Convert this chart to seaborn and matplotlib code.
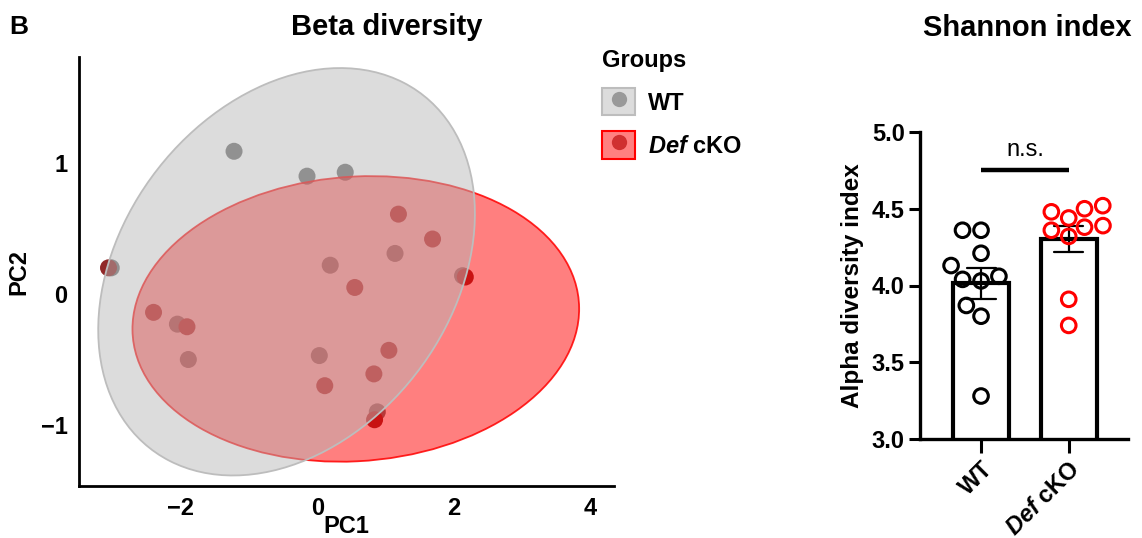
import numpy as np
import pandas as pd
import seaborn as sns
import matplotlib
matplotlib.use("Agg")
import matplotlib.pyplot as plt
from matplotlib.patches import Ellipse, Patch
from matplotlib.lines import Line2D
from matplotlib.legend_handler import HandlerTuple

# PCoA coordinates
wt_pc1 = [-1.22, -0.15, 0.41, 0.19, 1.14, 2.13, -3.02, -2.05, -1.89, 0.03, 0.88]
wt_pc2 = [1.09, 0.90, 0.93, 0.22, 0.31, 0.14, 0.20, -0.23, -0.50, -0.47, -0.90]
ko_pc1 = [1.19, 1.69, 0.55, 2.17, -3.06, -2.40, -1.91, 1.05, 0.83, 0.11, 0.84]
ko_pc2 = [0.61, 0.42, 0.05, 0.13, 0.20, -0.14, -0.25, -0.43, -0.61, -0.70, -0.96]

# group ellipses (centre, width, height, angle)
ell_groups = ["Def cKO", "WT"]
ell_cx = [0.565, -0.45]
ell_cy = [-0.19, 0.17]
ell_w = [6.55, 5.62]
ell_h = [2.175, 2.93]
ell_angle = [1.5, 12.6]

# Shannon index per mouse
wt_shannon = [4.36, 4.36, 4.21, 4.13, 4.06, 4.03, 4.04, 3.87, 3.80, 3.28]
ko_shannon = [4.48, 4.52, 4.50, 4.38, 4.44, 4.39, 4.36, 4.32, 3.91, 3.74]

groups = ["WT", "Def cKO"]
group_labels = ["WT", r"$\mathbfit{Def}$ cKO"]

pcoa_df = pd.DataFrame({
    "PC1": wt_pc1 + ko_pc1,
    "PC2": wt_pc2 + ko_pc2,
    "Group": ["WT"] * len(wt_pc1) + ["Def cKO"] * len(ko_pc1),
})
alpha_df = pd.DataFrame({
    "Shannon": wt_shannon + ko_shannon,
    "Group": ["WT"] * len(wt_shannon) + ["Def cKO"] * len(ko_shannon),
})

sns.set_style("white")
plt.rcParams["font.family"] = ["Liberation Sans", "DejaVu Sans"]
plt.rcParams["mathtext.fontset"] = "custom"
plt.rcParams["mathtext.rm"] = "Liberation Sans"
plt.rcParams["mathtext.it"] = "Liberation Sans:italic"
plt.rcParams["mathtext.bf"] = "Liberation Sans:bold"
try:
    plt.rcParams["mathtext.bfit"] = "Liberation Sans:italic:bold"
except KeyError:
    pass
for key in ["text.color", "axes.labelcolor", "xtick.color", "ytick.color"]:
    plt.rcParams[key] = "black"

W, H = 1142, 538
fig = plt.figure(figsize=(W / 100, H / 100), dpi=100)

def px_axes(l, t, r, b):
    return fig.add_axes([l / W, 1 - b / H, (r - l) / W, (b - t) / H])

# ---- Beta diversity (PCoA) ----
ax1 = px_axes(78.5, 57, 614, 486)
sns.scatterplot(data=pcoa_df, x="PC1", y="PC2", hue="Group",
                palette={"WT": "#717171", "Def cKO": "#912828"},
                s=150, linewidth=0, legend=False, zorder=1, ax=ax1)

fills = {"WT": (0.714, 0.714, 0.714, 0.48), "Def cKO": (1.0, 0.0, 0.0, 0.5)}
edges = {"WT": "#BDBDBD", "Def cKO": (1.0, 0.0, 0.0, 0.85)}
for i, g in enumerate(ell_groups):
    e = Ellipse((ell_cx[i], ell_cy[i]), ell_w[i], ell_h[i], angle=ell_angle[i],
                facecolor=fills[g], edgecolor=edges[g], linewidth=1.3, zorder=2 + i)
    ax1.add_patch(e)

ax1.set_xlim(-3.5, 4.35)
ax1.set_ylim(-1.466, 1.81)
ax1.set_xticks([-2, 0, 2, 4])
ax1.set_yticks([-1, 0, 1])
ax1.tick_params(axis="x", length=0, labelsize=17, pad=8)
ax1.tick_params(axis="y", length=0, labelsize=17, pad=8)
for lab in ax1.get_xticklabels() + ax1.get_yticklabels():
    lab.set_fontweight("bold")
for s in ["top", "right"]:
    ax1.spines[s].set_visible(False)
for s in ["left", "bottom"]:
    ax1.spines[s].set_linewidth(2)
    ax1.spines[s].set_color("black")
ax1.set_xlabel("PC1", fontsize=17, fontweight="bold")
ax1.set_ylabel("PC2", fontsize=17, fontweight="bold")
ax1.xaxis.set_label_coords(0.5, -0.068)
ax1.yaxis.set_label_coords(-0.09, 0.5)

handles = [
    (Patch(facecolor="#DCDCDC", edgecolor="#BDBDBD", linewidth=1.5),
     Line2D([], [], marker="o", ls="none", ms=11, mfc="#999999", mec="none")),
    (Patch(facecolor="#FF8080", edgecolor="#FF0000", linewidth=1.5),
     Line2D([], [], marker="o", ls="none", ms=11, mfc="#D03030", mec="none")),
]
leg = fig.legend(handles, group_labels, handler_map={tuple: HandlerTuple(ndivide=1, pad=0)},
                 loc="upper left", bbox_to_anchor=(602 / W, 1 - 49 / H), frameon=False,
                 title="Groups", title_fontproperties={"weight": "bold", "size": 17},
                 prop={"weight": "bold", "size": 17}, alignment="left",
                 handlelength=1.4, handleheight=1.4, handletextpad=0.55,
                 labelspacing=0.68, borderpad=0, borderaxespad=0)

# ---- Shannon index ----
ax2 = px_axes(920, 132, 1128, 439)
sns.barplot(data=alpha_df, x="Group", y="Shannon", order=groups, errorbar="se",
            capsize=0.33, width=0.64, color="white", edgecolor="black", linewidth=3,
            err_kws={"color": "black", "linewidth": 1.6}, ax=ax2)
sns.swarmplot(data=alpha_df, x="Group", y="Shannon", order=groups, hue="Group",
              palette={"WT": "black", "Def cKO": "#FF0000"}, size=10.5, linewidth=2.2,
              legend=False, ax=ax2)
for coll in ax2.collections:
    fc = coll.get_facecolor()
    coll.set_edgecolor(fc)
    coll.set_facecolor("none")
    coll.set_zorder(4)

sig_y = 4.75
ax2.plot([0, 1], [sig_y, sig_y], color="black", lw=3.2, solid_capstyle="butt")
ax2.text(0.5, 4.88, "n.s.", ha="center", va="center", fontsize=17)

ax2.set_ylim(3, 5)
ax2.set_xlim(-0.696, 1.676)
ax2.set_yticks([3.0, 3.5, 4.0, 4.5, 5.0])
ax2.set_yticklabels(["3.0", "3.5", "4.0", "4.5", "5.0"])
ax2.set_xticks([0, 1])
ax2.set_xticklabels(group_labels, rotation=45, ha="right", rotation_mode="anchor")
ax2.tick_params(axis="y", length=8, width=2.2, labelsize=17, pad=3, direction="out", left=True)
ax2.tick_params(axis="x", length=10, width=2.2, labelsize=17, pad=3, direction="out", bottom=True)
for lab in ax2.get_xticklabels() + ax2.get_yticklabels():
    lab.set_fontweight("bold")
for s in ["top", "right"]:
    ax2.spines[s].set_visible(False)
for s in ["left", "bottom"]:
    ax2.spines[s].set_linewidth(2.4)
    ax2.spines[s].set_color("black")
ax2.set_xlabel("")
ax2.set_ylabel("Alpha diversity index", fontsize=17.5, fontweight="bold")
ax2.yaxis.set_label_coords(-0.27, 0.5)

fig.text(19 / W, 1 - 27 / H, "B", fontsize=19, fontweight="bold", ha="center", va="center")
fig.text(387 / W, 1 - 27 / H, "Beta diversity", fontsize=21, fontweight="bold", ha="center", va="center")
fig.text(1027 / W, 1 - 28 / H, "Shannon index", fontsize=21, fontweight="bold", ha="center", va="center")

fig.savefig("out.png", dpi=100)
